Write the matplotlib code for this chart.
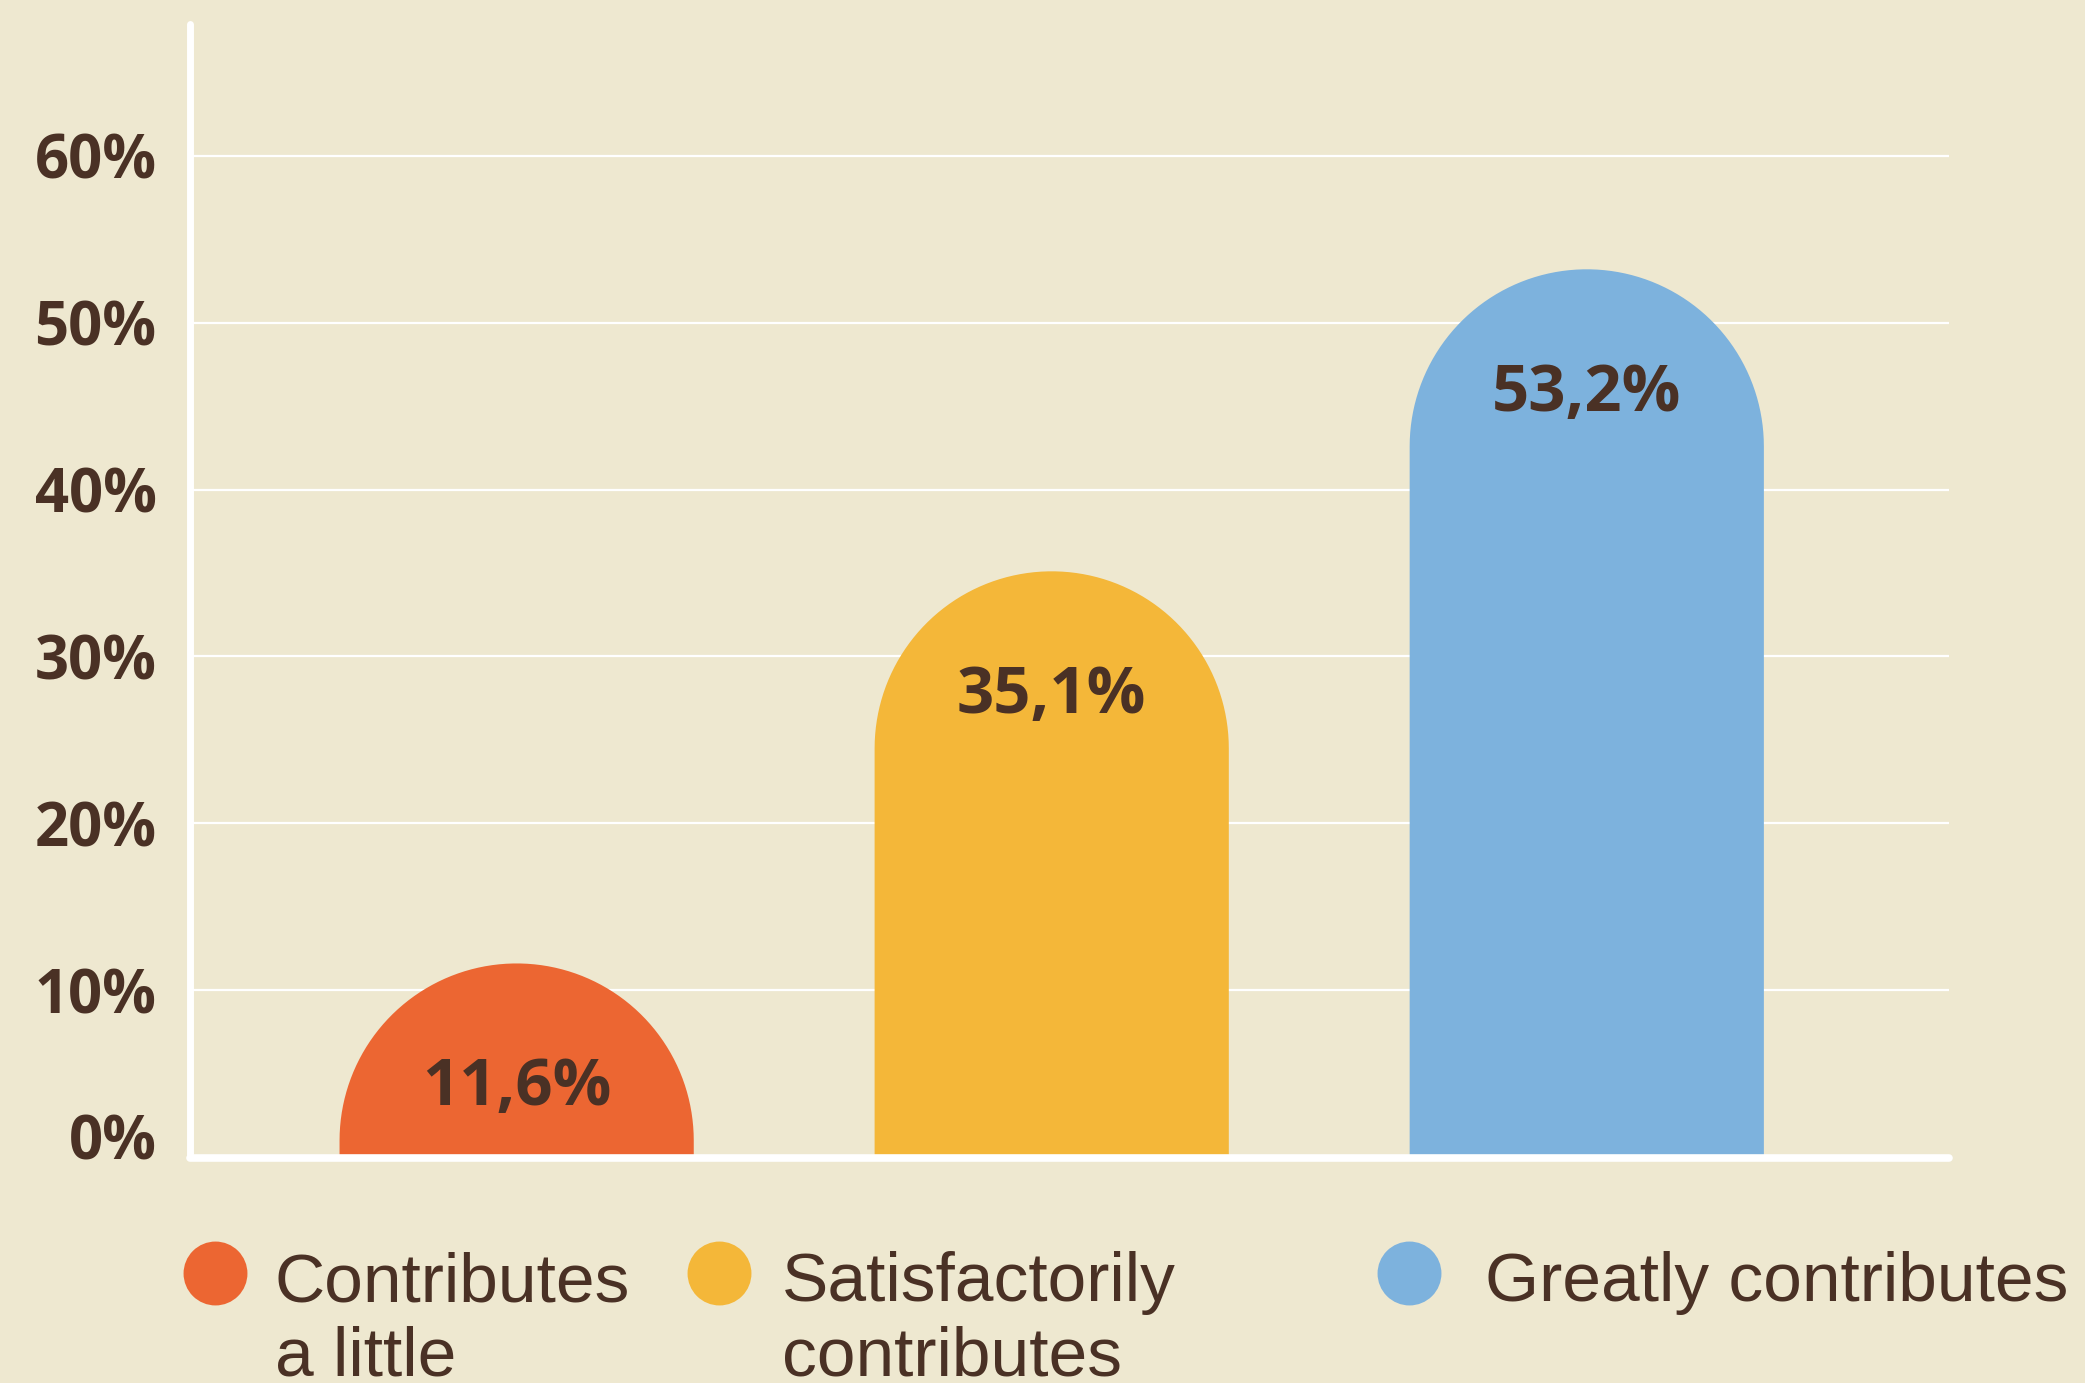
import matplotlib
matplotlib.use("Agg")
import matplotlib.pyplot as plt
import numpy as np
from matplotlib.path import Path
from matplotlib.patches import PathPatch
from matplotlib.lines import Line2D
from matplotlib.transforms import ScaledTranslation

# ---- data ----
categories = ["Contributes\na little", "Satisfactorily\ncontributes", "Greatly contributes"]
values = [11.6, 35.1, 53.2]
value_labels = ["11,6%", "35,1%", "53,2%"]
ytick_values = [0, 10, 20, 30, 40, 50, 60]
ytick_labels = ["0%", "10%", "20%", "30%", "40%", "50%", "60%"]
colors = ["#EC6632", "#F4B739", "#7DB2DD"]

BG = "#EEE8D0"
TXT = "#4A3125"
W, H = 2085, 1383

fig = plt.figure(figsize=(W / 100, H / 100), dpi=100, facecolor=BG)
ax_l, ax_b, ax_w, ax_h = 190 / W, 1 - 1157 / H, 1759 / W, (1157 - 24) / H
ax = fig.add_axes([ax_l, ax_b, ax_w, ax_h])
ax.set_facecolor(BG)

xlim = (-0.6105, 2.677)
ylim = (0, 67.9)
ax.set_xlim(*xlim)
ax.set_ylim(*ylim)

for s in ax.spines.values():
    s.set_visible(False)

ax.set_xticks([])
ax.set_yticks(ytick_values)
ax.set_yticklabels(ytick_labels, fontfamily="Open Sans", fontweight="bold",
                   fontsize=43, color=TXT)
ax.tick_params(axis="y", length=0, pad=24)
ax.yaxis.grid(True, color="white", linewidth=1.6)
ax.set_axisbelow(True)
# raise the 0% label slightly as in reference
lbl0 = ax.get_yticklabels()[0]
lbl0.set_transform(lbl0.get_transform() + ScaledTranslation(0, 0.2, fig.dpi_scale_trans))

# pixel scales
px_x = ax_w * W / (xlim[1] - xlim[0])
px_y = ax_h * H / (ylim[1] - ylim[0])

bar_w = 0.662
x_pos = np.arange(len(values))
for xc, v, col, lab in zip(x_pos, values, colors, value_labels):
    half = bar_w / 2
    ry = half * px_x / px_y
    base = max(v - ry, 0)
    t = np.linspace(np.pi, 0, 80)
    verts = [(xc - half, 0), (xc - half, base)]
    verts += [(xc + half * np.cos(a), base + ry * np.sin(a)) for a in t]
    verts += [(xc + half, 0), (xc - half, 0)]
    codes = [Path.MOVETO] + [Path.LINETO] * (len(verts) - 2) + [Path.CLOSEPOLY]
    ax.add_patch(PathPatch(Path(verts, codes), facecolor=col, edgecolor="none", zorder=2))
    ax.text(xc, v - 8.5, lab, ha="center", va="baseline", fontfamily="Open Sans",
            fontweight="bold", fontsize=47, color=TXT, zorder=3)

# axis lines (white, rounded)
ax.plot([xlim[0], xlim[0]], [ylim[0], ylim[1]], color="white", lw=5,
        solid_capstyle="round", clip_on=False, zorder=4)
ax.plot([xlim[0], xlim[1]], [ylim[0] - 0.05, ylim[0] - 0.05], color="white", lw=5.5,
        solid_capstyle="round", clip_on=False, zorder=4)

# legend
leg_circle_x = [215, 719, 1409]
leg_text_x = [275, 782, 1485]
leg_y = 1273
for cx, tx, col, cat in zip(leg_circle_x, leg_text_x, colors, categories):
    fig.add_artist(Line2D([cx / W], [1 - leg_y / H], marker="o", markersize=46,
                          markerfacecolor=col, markeredgecolor="none",
                          transform=fig.transFigure))
    fig.text(tx / W, 1 - 1251 / H, cat, ha="left", va="top",
             fontfamily="Liberation Sans", fontsize=50, color=TXT,
             linespacing=1.2)

fig.savefig("out.png", dpi=100, facecolor=BG)
